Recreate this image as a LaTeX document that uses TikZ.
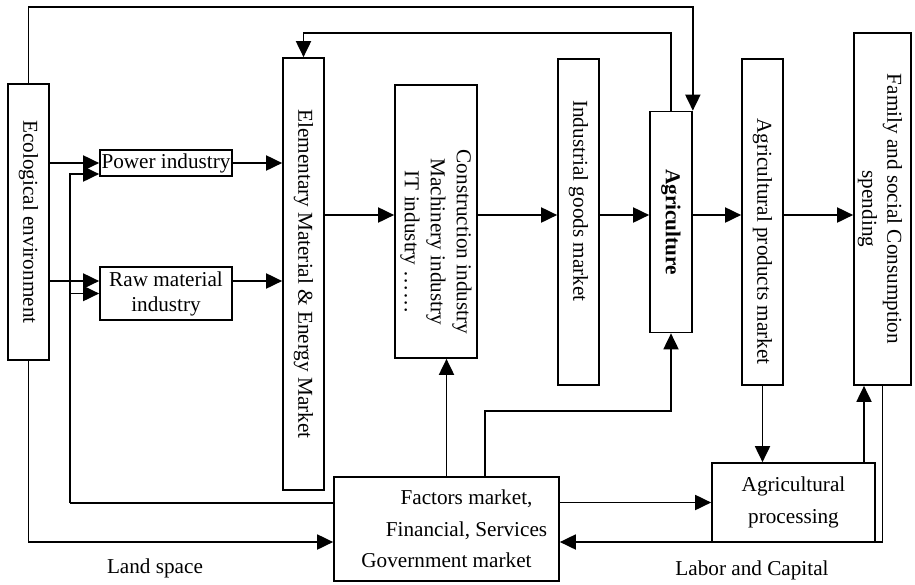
\documentclass[tikz,border=0pt]{standalone}
\usepackage{fontspec}
\setmainfont{Liberation Serif}
\usetikzlibrary{arrows.meta}

\tikzset{
	box/.style={draw, line width=1.7pt, inner sep=0pt, align=center},
	vtext/.style={rotate=-90, inner sep=0pt, align=center},
	link/.style={line width=1.9pt},
	arr/.style={line width=1.9pt, -{Triangle[length=16pt,width=15pt]}},
}

\begin{document}
\begin{tikzpicture}[x=1pt, y=-1pt, font=\fontsize{21.2}{25}\selectfont]

	\useasboundingbox (0,0) rectangle (915,584);

	% levels
	\coordinate (mid) at (0,215);
	\coordinate (top) at (0,7);
	\coordinate (top2) at (0,33);
	\coordinate (low) at (0,503);
	\coordinate (ret) at (0,542);
	\coordinate (bend) at (0,411);
	\coordinate (fb) at (70,503);
	\coordinate (ups) at (864,0);

	% boxes
	\node[box, minimum width=41pt, minimum height=276pt] (eco) at (28.5,222) {};
	\node[box, minimum width=132pt, minimum height=26pt] (power) at (166,163) {Power industry};
	\node[box, minimum width=132pt, minimum height=53pt] (raw) at (166,293.5) {Raw material\\industry};
	\node[box, minimum width=41pt, minimum height=432pt] (elem) at (303.5,274) {};
	\node[box, minimum width=82pt, minimum height=273pt] (cons) at (436,221.5) {};
	\node[box, minimum width=41pt, minimum height=326pt] (igm) at (578.5,222) {};
	\node[box, minimum width=42pt, minimum height=221pt] (agri) at (671,222) {};
	\node[box, minimum width=41pt, minimum height=326pt] (apm) at (762.5,222) {};
	\node[box, minimum width=57pt, minimum height=352pt] (fam) at (882.5,209) {};
	\node[box, minimum width=163pt, minimum height=79pt, font=\fontsize{21.2}{32}\selectfont]
		(proc) at (793.5,502.5) {Agricultural\\processing};
	\node[box, minimum width=225pt, minimum height=104pt, font=\fontsize{21.2}{31.5}\selectfont]
		(fac) at (446.5,529) {\hspace*{40pt}Factors market,\\ \hspace*{40pt}Financial, Services\\ Government market};

	% vertical labels
	\node[vtext] (ecotxt) at (28.5,222) {Ecological environment};
	\node[vtext] (elemtxt) at (303.5,274) {Elementary Material \& Energy Market};
	\node[vtext, font=\fontsize{21.2}{26}\selectfont] (constxt) at (436,242)
		{Construction industry\\Machinery industry\\IT industry \dots\dots};
	\node[vtext] (igmtxt) at (578.5,201) {Industrial goods market};
	\node[vtext, font=\fontsize{21.2}{25}\selectfont\bfseries] (agritxt) at (671,222) {Agriculture};
	\node[vtext] (apmtxt) at (762.5,241.5) {Agricultural products market};
	\node[vtext] (famtxt) at (880,209) {Family and social Consumption\\spending};

	% inputs to the first stage
	\draw[arr] (eco.east |- power) -- (power.west);
	\draw[arr] (eco.east |- 0,281) -- (raw.west |- 0,281);
	\draw[link] (fac.west |- fb) -- (fb);
	\draw[arr] (fb) |- (power.west |- 0,174);
	\draw[arr] (fb |- raw) -- (raw.west);
	\draw[arr] (power.east) -- (elem.west |- power.east);
	\draw[arr] (raw.east |- 0,281) -- (elem.west |- 0,281);

	% main chain
	\foreach \a/\b in {elem/cons, cons/igm, igm/agri, agri/apm, apm/fam} {
		\draw[arr] (\a.east |- mid) -- (\b.west |- mid);
	}

	% loops over the top
	\draw[arr] (eco.north) |- (agri.north east |- top) -- (agri.north east);
	\draw[arr] (agri.north) |- (elem.north |- top2) -- (elem.north);

	% factors market
	\draw[arr] (fac.north) -- (fac.north |- cons.south);
	\draw[arr] ([xshift=38.5pt]fac.north) |- (agri.south |- bend) -- (agri.south);
	\draw[arr] (fac.east |- proc.west) -- (proc.west);
	\draw[arr] (apm.south) -- (apm.south |- proc.north);
	\draw[arr] (proc.north -| ups) -- (fam.south -| ups);
	\draw[arr] (fam.south) |- (fac.east |- ret);
	\draw[arr] (eco.south) |- (fac.west |- ret);

	% flow labels
	\node (land) at (155,568) {Land space};
	\node (labor) at (752,570) {Labor and Capital};

\end{tikzpicture}
\end{document}
